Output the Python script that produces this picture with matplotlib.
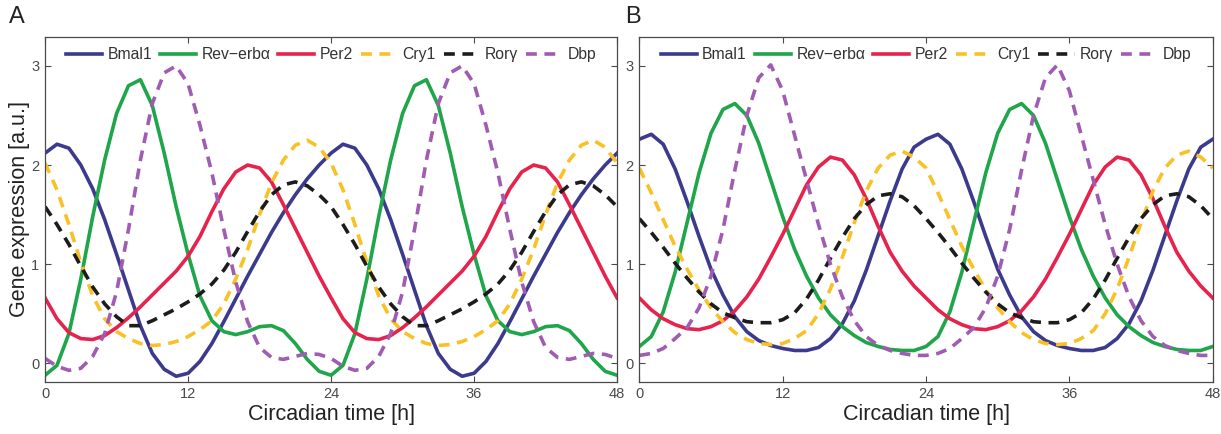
import matplotlib
matplotlib.use('Agg')
import matplotlib.pyplot as plt

plt.rcParams['font.family'] = ['Liberation Sans', 'DejaVu Sans']

# circadian time, one value per hour
hours = list(range(49))

# panel A values
a_bmal1 = [2.12, 2.21, 2.17, 2.0, 1.76, 1.45, 1.1, 0.74, 0.38, 0.1, -0.06, -0.13, -0.1,
           0.02, 0.2, 0.42, 0.65, 0.88, 1.1, 1.32, 1.52, 1.7, 1.86, 2.0,
           2.12, 2.21, 2.17, 2.0, 1.76, 1.45, 1.1, 0.74, 0.38, 0.1, -0.06, -0.13, -0.1,
           0.02, 0.2, 0.42, 0.65, 0.88, 1.1, 1.32, 1.52, 1.7, 1.86, 2.0, 2.12]
a_reverb = [-0.12, -0.02, 0.3, 0.85, 1.48, 2.05, 2.52, 2.8, 2.86, 2.6, 2.12, 1.58, 1.1,
            0.68, 0.43, 0.32, 0.29, 0.32, 0.37, 0.38, 0.33, 0.2, 0.04, -0.08,
            -0.12, -0.02, 0.3, 0.85, 1.48, 2.05, 2.52, 2.8, 2.86, 2.6, 2.12, 1.58, 1.1,
            0.68, 0.43, 0.32, 0.29, 0.32, 0.37, 0.38, 0.33, 0.2, 0.04, -0.08, -0.12]
a_per2 = [0.66, 0.45, 0.31, 0.25, 0.24, 0.28, 0.36, 0.46, 0.57, 0.69, 0.81, 0.93, 1.08,
          1.28, 1.53, 1.76, 1.93, 2.0, 1.97, 1.83, 1.6, 1.36, 1.12, 0.88,
          0.66, 0.45, 0.31, 0.25, 0.24, 0.28, 0.36, 0.46, 0.57, 0.69, 0.81, 0.93, 1.08,
          1.28, 1.53, 1.76, 1.93, 2.0, 1.97, 1.83, 1.6, 1.36, 1.12, 0.88, 0.66]
a_cry1 = [2.02, 1.75, 1.4, 1.02, 0.68, 0.45, 0.32, 0.25, 0.2, 0.18, 0.19, 0.22, 0.27,
          0.34, 0.43, 0.6, 0.85, 1.15, 1.5, 1.82, 2.05, 2.2, 2.25, 2.18,
          2.02, 1.75, 1.4, 1.02, 0.68, 0.45, 0.32, 0.25, 0.2, 0.18, 0.19, 0.22, 0.27,
          0.34, 0.43, 0.6, 0.85, 1.15, 1.5, 1.82, 2.05, 2.2, 2.25, 2.18, 2.02]
a_rorg = [1.58, 1.4, 1.2, 0.98, 0.77, 0.6, 0.47, 0.38, 0.38, 0.43, 0.49, 0.55, 0.62,
          0.7, 0.8, 0.94, 1.12, 1.33, 1.53, 1.7, 1.8, 1.83, 1.79, 1.7,
          1.58, 1.4, 1.2, 0.98, 0.77, 0.6, 0.47, 0.38, 0.38, 0.43, 0.49, 0.55, 0.62,
          0.7, 0.8, 0.94, 1.12, 1.33, 1.53, 1.7, 1.8, 1.83, 1.79, 1.7, 1.58]
a_dbp = [0.05, -0.03, -0.07, -0.05, 0.07, 0.3, 0.72, 1.35, 2.05, 2.62, 2.93, 3.0, 2.82,
         2.4, 1.92, 1.35, 0.82, 0.42, 0.16, 0.06, 0.04, 0.07, 0.1, 0.09,
         0.05, -0.03, -0.07, -0.05, 0.07, 0.3, 0.72, 1.35, 2.05, 2.62, 2.93, 3.0, 2.82,
         2.4, 1.92, 1.35, 0.82, 0.42, 0.16, 0.06, 0.04, 0.07, 0.1, 0.09, 0.05]

# panel B values
b_bmal1 = [2.26, 2.31, 2.21, 1.96, 1.63, 1.28, 0.95, 0.69, 0.47, 0.32, 0.23, 0.18, 0.15,
           0.13, 0.13, 0.16, 0.25, 0.4, 0.63, 0.94, 1.29, 1.64, 1.96, 2.18,
           2.26, 2.31, 2.21, 1.96, 1.63, 1.28, 0.95, 0.69, 0.47, 0.32, 0.23, 0.18, 0.15,
           0.13, 0.13, 0.16, 0.25, 0.4, 0.63, 0.94, 1.29, 1.64, 1.96, 2.18, 2.26]
b_reverb = [0.17, 0.27, 0.52, 0.92, 1.42, 1.92, 2.32, 2.56, 2.62, 2.5, 2.22, 1.85, 1.48,
            1.15, 0.88, 0.66, 0.49, 0.37, 0.28, 0.21, 0.17, 0.14, 0.13, 0.13,
            0.17, 0.27, 0.52, 0.92, 1.42, 1.92, 2.32, 2.56, 2.62, 2.5, 2.22, 1.85, 1.48,
            1.15, 0.88, 0.66, 0.49, 0.37, 0.28, 0.21, 0.17, 0.14, 0.13, 0.13, 0.17]
b_per2 = [0.66, 0.54, 0.45, 0.39, 0.35, 0.34, 0.37, 0.43, 0.53, 0.67, 0.85, 1.07, 1.3,
          1.55, 1.8, 1.98, 2.08, 2.05, 1.9, 1.66, 1.38, 1.12, 0.93, 0.78,
          0.66, 0.54, 0.45, 0.39, 0.35, 0.34, 0.37, 0.43, 0.53, 0.67, 0.85, 1.07, 1.3,
          1.55, 1.8, 1.98, 2.08, 2.05, 1.9, 1.66, 1.38, 1.12, 0.93, 0.78, 0.66]
b_cry1 = [1.97, 1.72, 1.45, 1.18, 0.95, 0.74, 0.56, 0.42, 0.31, 0.24, 0.2, 0.19, 0.2,
          0.25, 0.33, 0.5, 0.75, 1.07, 1.42, 1.74, 1.97, 2.1, 2.14, 2.08,
          1.97, 1.72, 1.45, 1.18, 0.95, 0.74, 0.56, 0.42, 0.31, 0.24, 0.2, 0.19, 0.2,
          0.25, 0.33, 0.5, 0.75, 1.07, 1.42, 1.74, 1.97, 2.1, 2.14, 2.08, 1.97]
b_rorg = [1.46, 1.32, 1.17, 1.01, 0.86, 0.72, 0.6, 0.51, 0.46, 0.42, 0.41, 0.41, 0.44,
          0.51, 0.65, 0.84, 1.06, 1.27, 1.46, 1.6, 1.69, 1.71, 1.68, 1.59,
          1.46, 1.32, 1.17, 1.01, 0.86, 0.72, 0.6, 0.51, 0.46, 0.42, 0.41, 0.41, 0.44,
          0.51, 0.65, 0.84, 1.06, 1.27, 1.46, 1.6, 1.69, 1.71, 1.68, 1.59, 1.46]
b_dbp = [0.08, 0.1, 0.15, 0.25, 0.36, 0.56, 0.88, 1.35, 1.95, 2.5, 2.88, 3.01, 2.75,
         2.3, 1.85, 1.4, 1.0, 0.67, 0.43, 0.27, 0.18, 0.13, 0.1, 0.08,
         0.08, 0.1, 0.15, 0.25, 0.36, 0.56, 0.88, 1.35, 1.95, 2.5, 2.88, 3.01, 2.75,
         2.3, 1.85, 1.4, 1.0, 0.67, 0.43, 0.27, 0.18, 0.13, 0.1, 0.08, 0.08]

gene_names = ['Bmal1', 'Rev\u2212erb\u03b1', 'Per2', 'Cry1', 'Ror\u03b3', 'Dbp']
gene_colors = ['#3b3a8c', '#1fa54a', '#e6234c', '#f9c125', '#1c1c1c', '#a05cb2']
gene_dashed = [False, False, False, True, True, True]

x_ticks = [0, 12, 24, 36, 48]
y_ticks = [0, 1, 2, 3]

fig = plt.figure(figsize=(12.21, 4.34), dpi=100)
ax_a = fig.add_axes([0.0369, 0.1205, 0.4685, 0.794])
ax_b = fig.add_axes([0.5236, 0.1205, 0.4696, 0.794])

axis_col = '#4a4a4a'


def draw_panel(ax, series):
    for vals, name, col, dashed in zip(series, gene_names, gene_colors, gene_dashed):
        if dashed:
            ax.plot(hours, vals, color=col, lw=2.6, label=name,
                    dashes=(3.0, 2.1), dash_capstyle='butt', dash_joinstyle='round')
        else:
            ax.plot(hours, vals, color=col, lw=2.6, label=name,
                    solid_joinstyle='round')
    ax.set_xlim(0, 48)
    ax.set_ylim(-0.185, 3.29)
    ax.set_xticks(x_ticks)
    ax.set_yticks(y_ticks)
    ax.tick_params(direction='in', top=True, right=True, length=4, width=0.8,
                   colors=axis_col, labelsize=10.5, pad=4)
    for sp in ax.spines.values():
        sp.set_color(axis_col)
        sp.set_linewidth(0.9)
    ax.set_xlabel('Circadian time [h]', fontsize=15.5, color='#222222', labelpad=2)
    ax.legend(loc='upper center', bbox_to_anchor=(0.5, 1.0), ncol=6, frameon=False,
              fontsize=11.3, handlelength=2.3, handletextpad=0.35, columnspacing=0.5,
              borderaxespad=0.25, labelcolor='#333333')


draw_panel(ax_a, [a_bmal1, a_reverb, a_per2, a_cry1, a_rorg, a_dbp])
draw_panel(ax_b, [b_bmal1, b_reverb, b_per2, b_cry1, b_rorg, b_dbp])

ax_a.set_ylabel('Gene expression [a.u.]', fontsize=15.5, color='#222222', labelpad=1)

fig.text(0.007, 0.96, 'A', fontsize=17, color='#222222', va='center')
fig.text(0.512, 0.96, 'B', fontsize=17, color='#222222', va='center')

fig.savefig('out.png', dpi=100)
